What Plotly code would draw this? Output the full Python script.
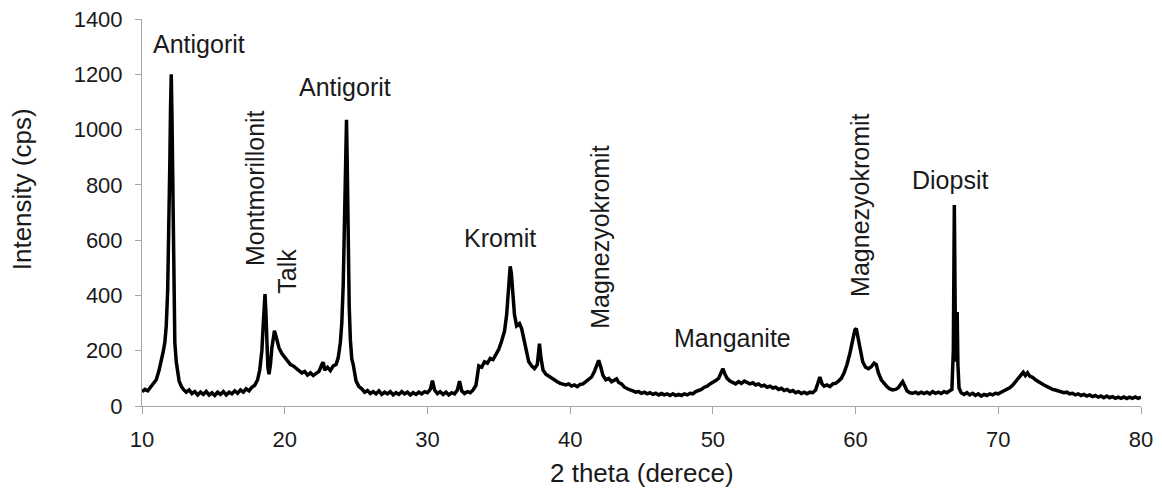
import plotly.graph_objects as go

two_theta = [
    10.0, 10.2, 10.4, 10.6, 10.8, 11.0, 11.2, 11.4, 11.5, 11.6, 11.7, 11.8, 11.9, 11.95, 12.0, 12.05, 12.1, 12.15,
    12.2, 12.25, 12.3, 12.4, 12.5, 12.6, 12.75, 12.9, 13.1, 13.3, 13.5, 13.7, 13.9, 14.1, 14.3, 14.5, 14.7, 14.9,
    15.1, 15.3, 15.5, 15.7, 15.9, 16.1, 16.3, 16.5, 16.7, 16.9, 17.1, 17.3, 17.5, 17.7, 17.9, 18.1, 18.25, 18.4,
    18.5, 18.55, 18.62, 18.68, 18.75, 18.82, 18.9, 19.0, 19.1, 19.2, 19.28, 19.35, 19.45, 19.6, 19.8, 20.0, 20.2,
    20.4, 20.6, 20.8, 21.0, 21.2, 21.4, 21.6, 21.8, 22.0, 22.2, 22.4, 22.6, 22.7, 22.8, 23.0, 23.2, 23.4, 23.6,
    23.75, 23.9, 24.0, 24.1, 24.2, 24.28, 24.33, 24.38, 24.45, 24.52, 24.6, 24.7, 24.8, 24.9, 25.0, 25.2, 25.4,
    25.6, 25.8, 26.0, 26.2, 26.4, 26.6, 26.8, 27.0, 27.2, 27.4, 27.6, 27.8, 28.0, 28.2, 28.4, 28.6, 28.8, 29.0,
    29.2, 29.4, 29.6, 29.8, 30.0, 30.2, 30.35, 30.5, 30.7, 30.9, 31.1, 31.3, 31.5, 31.7, 31.9, 32.1, 32.25, 32.4,
    32.6, 32.8, 33.0, 33.2, 33.4, 33.5, 33.6, 33.8, 34.0, 34.2, 34.4, 34.6, 34.8, 35.0, 35.2, 35.4, 35.55, 35.7,
    35.8, 35.88, 36.0, 36.1, 36.25, 36.45, 36.6, 36.75, 36.9, 37.1, 37.3, 37.5, 37.7, 37.85, 37.95, 38.1, 38.3,
    38.5, 38.7, 38.9, 39.1, 39.3, 39.5, 39.7, 39.9, 40.1, 40.3, 40.5, 40.7, 40.9, 41.1, 41.3, 41.5, 41.7, 41.85,
    42.0, 42.15, 42.3, 42.5, 42.7, 42.9, 43.1, 43.25, 43.4, 43.6, 43.8, 44.0, 44.2, 44.4, 44.6, 44.8, 45.0, 45.2,
    45.4, 45.6, 45.8, 46.0, 46.2, 46.4, 46.6, 46.8, 47.0, 47.2, 47.4, 47.6, 47.8, 48.0, 48.2, 48.4, 48.6, 48.8,
    49.0, 49.2, 49.4, 49.6, 49.8, 50.0, 50.2, 50.4, 50.55, 50.7, 50.85, 51.0, 51.2, 51.4, 51.6, 51.8, 52.0, 52.2,
    52.4, 52.6, 52.8, 53.0, 53.2, 53.4, 53.6, 53.8, 54.0, 54.2, 54.4, 54.6, 54.8, 55.0, 55.2, 55.4, 55.6, 55.8,
    56.0, 56.2, 56.4, 56.6, 56.8, 57.0, 57.2, 57.35, 57.5, 57.65, 57.8, 58.0, 58.2, 58.4, 58.6, 58.8, 59.0, 59.2,
    59.4, 59.6, 59.8, 59.95, 60.05, 60.2, 60.35, 60.5, 60.7, 60.9, 61.1, 61.3, 61.45, 61.6, 61.8, 62.0, 62.2,
    62.4, 62.6, 62.8, 63.0, 63.15, 63.3, 63.45, 63.6, 63.8, 64.0, 64.2, 64.4, 64.6, 64.8, 65.0, 65.2, 65.4, 65.6,
    65.8, 66.0, 66.2, 66.4, 66.6, 66.75, 66.85, 66.92, 66.98, 67.03, 67.08, 67.12, 67.17, 67.25, 67.4, 67.6,
    67.8, 68.0, 68.2, 68.4, 68.6, 68.8, 69.0, 69.2, 69.4, 69.6, 69.8, 70.0, 70.2, 70.4, 70.6, 70.8, 71.0, 71.2,
    71.4, 71.6, 71.75, 71.9, 72.05, 72.2, 72.4, 72.6, 72.8, 73.0, 73.2, 73.4, 73.6, 73.8, 74.0, 74.2, 74.4, 74.6,
    74.8, 75.0, 75.2, 75.4, 75.6, 75.8, 76.0, 76.2, 76.4, 76.6, 76.8, 77.0, 77.2, 77.4, 77.6, 77.8, 78.0, 78.2,
    78.4, 78.6, 78.8, 79.0, 79.2, 79.4, 79.6, 79.8, 80.0,
]

intensity = [
    52, 60, 55, 68, 80, 95, 130, 170, 200, 230, 290, 420, 650, 880, 1080, 1200, 1050, 780,
    520, 340, 230, 160, 115, 90, 72, 60, 50, 58, 45, 52, 40, 50, 42, 53, 40, 48,
    38, 50, 42, 52, 40, 50, 44, 55, 46, 58, 50, 62, 55, 68, 75, 95, 130, 200,
    300, 370, 405, 340, 220, 140, 115, 150, 210, 255, 272, 260, 235, 210, 190, 175, 165,
    150, 145, 135, 128, 120, 125, 112, 120, 110, 118, 125, 150, 158, 130, 140, 128, 145, 150,
    175, 230, 300, 440, 700, 980, 1035, 880, 560, 360, 240, 170, 150, 115, 90, 70, 62,
    50, 56, 45, 52, 44, 55, 42, 50, 44, 52, 40, 48, 42, 52, 44, 50, 40, 48,
    42, 50, 44, 52, 48, 60, 92, 58, 45, 52, 42, 50, 40, 48, 44, 58, 90, 55,
    45, 52, 48, 58, 75, 120, 145, 140, 160, 155, 172, 168, 190, 205, 235, 270, 330, 440,
    505, 480, 380, 330, 290, 298, 280, 240, 200, 160, 145, 135, 150, 225, 175, 130, 115,
    108, 100, 92, 88, 82, 80, 76, 80, 72, 76, 70, 78, 80, 88, 95, 105, 125, 145,
    165, 140, 110, 95, 100, 88, 92, 98, 85, 80, 68, 62, 58, 55, 50, 52, 46, 50,
    44, 48, 42, 46, 40, 45, 40, 44, 38, 44, 38, 42, 38, 44, 40, 46, 44, 52,
    55, 60, 68, 72, 80, 85, 92, 100, 120, 135, 115, 100, 90, 85, 80, 88, 82, 90,
    85, 80, 84, 76, 80, 72, 75, 68, 72, 65, 68, 60, 64, 56, 60, 52, 56, 48,
    52, 45, 50, 44, 50, 48, 58, 80, 105, 80, 72, 76, 70, 80, 82, 90, 100, 120,
    150, 190, 240, 275, 280, 240, 190, 160, 140, 135, 142, 155, 150, 120, 95, 80, 70,
    62, 58, 60, 66, 78, 88, 72, 55, 48, 46, 50, 44, 50, 45, 50, 44, 52, 46,
    50, 45, 52, 48, 55, 60, 200, 727, 350, 160, 300, 340, 150, 65, 48, 42,
    48, 40, 46, 38, 44, 36, 42, 38, 44, 40, 46, 44, 50, 55, 60, 66, 75, 88,
    100, 112, 122, 110, 120, 108, 104, 95, 90, 82, 76, 70, 66, 60, 58, 54, 52, 48,
    50, 44, 46, 40, 44, 38, 42, 36, 40, 34, 38, 32, 36, 30, 36, 30, 34, 28,
    32, 28, 33, 27, 32, 28, 33, 28, 32,
]

label_text = ["Antigorit", "Montmorillonit", "Talk", "Antigorit", "Kromit",
              "Magnezyokromit", "Manganite", "Magnezyokromit", "Diopsit"]
label_x = [14.0, 17.93, 20.18, 24.25, 35.05, 42.07, 51.4, 60.3, 66.6]
label_y = [1309, 789, 487, 1153, 607, 611, 247, 727, 818]
label_angle = [0, -90, -90, 0, 0, -90, 0, -90, 0]

x_ticks = [10, 20, 30, 40, 50, 60, 70, 80]
y_ticks = [0, 200, 400, 600, 800, 1000, 1200, 1400]
x_title = "2 theta (derece)"
y_title = "Intensity (cps)"

font_family = "Liberation Sans, Arial, sans-serif"
axis_gray = "#a6a6a6"
text_color = "#1a1a1a"

fig = go.Figure()
fig.add_trace(go.Scatter(
    x=two_theta, y=intensity, mode="lines",
    line=dict(color="black", width=3.5),
    showlegend=False, hoverinfo="skip",
))

for t, lx, ly, ang in zip(label_text, label_x, label_y, label_angle):
    fig.add_annotation(x=lx, y=ly, text=t, showarrow=False, textangle=ang,
                       font=dict(family=font_family, size=25, color=text_color),
                       xanchor="center", yanchor="middle")

# axis titles
fig.add_annotation(xref="paper", yref="paper", x=0.5, y=0, yshift=-67,
                   text=x_title, showarrow=False, xanchor="center", yanchor="middle",
                   font=dict(family=font_family, size=26, color=text_color))
fig.add_annotation(xref="paper", yref="paper", x=0, y=0.56, xshift=-120,
                   text=y_title, showarrow=False, textangle=-90,
                   xanchor="center", yanchor="middle",
                   font=dict(family=font_family, size=26, color=text_color))

fig.update_layout(
    width=1162, height=495,
    margin=dict(l=142, r=21, t=19, b=89),
    paper_bgcolor="white", plot_bgcolor="white",
    font=dict(family=font_family, color=text_color),
    xaxis=dict(
        range=[10, 80], tickvals=x_ticks, ticktext=[str(v) for v in x_ticks],
        showgrid=False, zeroline=False, showline=True, linecolor=axis_gray, linewidth=1,
        ticks="outside", ticklen=7, tickcolor=axis_gray, tickfont=dict(size=22),
        ticklabelstandoff=7, automargin=False,
    ),
    yaxis=dict(
        range=[0, 1400], tickvals=y_ticks, ticktext=[str(v) for v in y_ticks],
        showgrid=False, zeroline=False, showline=True, linecolor=axis_gray, linewidth=1,
        ticks="outside", ticklen=6, tickcolor=axis_gray, tickfont=dict(size=22),
        ticklabelstandoff=8, automargin=False,
    ),
)

fig.write_html("out.html")
